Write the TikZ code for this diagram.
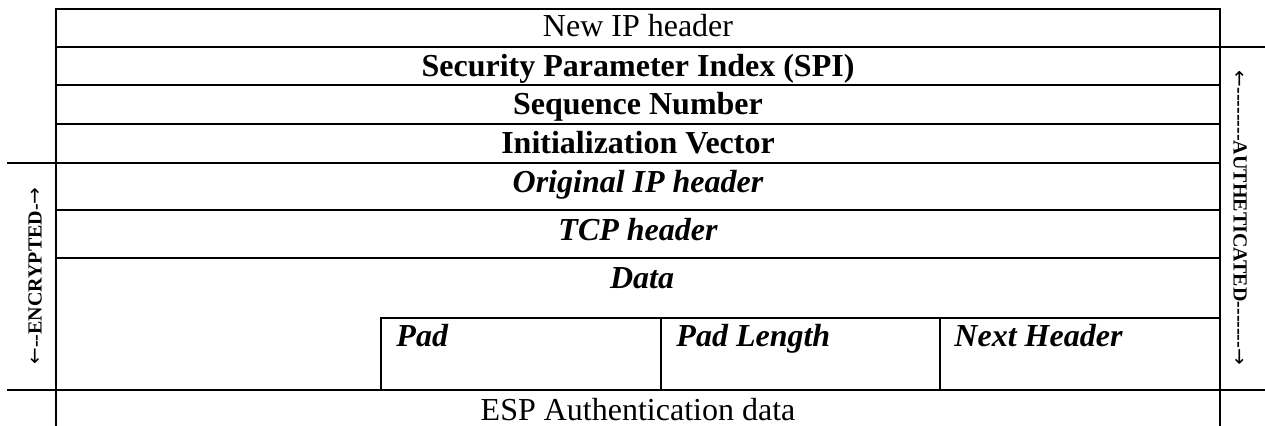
\documentclass[tikz,border=0pt]{standalone}
\usepackage{fontspec}
\setmainfont{Liberation Serif}
\newfontfamily\arrowfont{DejaVu Sans}
\newcommand{\up}{{\arrowfont\mdseries ←}}
\newcommand{\dn}{{\arrowfont\mdseries →}}
\begin{document}
\begin{tikzpicture}[x=0.375pt,y=-0.375pt,line width=1.1pt,
		plain/.style={anchor=base,inner sep=0pt,font=\fontsize{12}{14}\selectfont},
		boldtxt/.style={anchor=base,inner sep=0pt,font=\fontsize{12}{14}\selectfont\bfseries},
		itbold/.style={anchor=base,inner sep=0pt,font=\fontsize{12}{14}\selectfont\bfseries\itshape},
		side/.style={inner sep=0pt,font=\fontsize{7.5}{9}\selectfont\bfseries}]
	\useasboundingbox (0,0) rectangle (1265,426);
	% frame corners
	\coordinate (tl) at (56,9);
	\coordinate (tr) at (1220,9);
	\coordinate (bl) at (56,426);
	\coordinate (br) at (1220,426);
	\draw (bl) -- (tl) -- (tr) -- (br);
	% row borders
	\draw (56,47) -- (1265,47);
	\foreach \y in {85,124,210,258}
		\draw (56,\y) -- (1220,\y);
	\draw (7,163) -- (1220,163);
	\draw (7,390) -- (1265,390);
	% trailer cells
	\draw (381,390) -- (381,318) -- (1220,318);
	\draw (661,318) -- (661,390);
	\draw (940,318) -- (940,390);
	% texts
	\node[plain] (newip) at (638,37) {New IP header};
	\node[boldtxt] (spi) at (638,77) {Security Parameter Index (SPI)};
	\node[boldtxt] (seq) at (638,115) {Sequence Number};
	\node[boldtxt] (iv) at (638,154) {Initialization Vector};
	\node[itbold] (origip) at (638,193) {Original IP header};
	\node[itbold] (tcp) at (638,241) {TCP header};
	\node[itbold] (data) at (642,289) {Data};
	\node[itbold,anchor=base west] (pad) at (395,347) {Pad};
	\node[itbold,anchor=base west] (padlen) at (675,347) {Pad Length};
	\node[itbold,anchor=base west] (nexthdr) at (953,347) {Next Header};
	\node[plain] (espauth) at (638,421) {ESP Authentication data};
	% side labels
	\node[side,rotate=90] (enc) at (35,276) {\up-{}-ENCRYPTED-\dn};
	\node[side,rotate=-90] (auth) at (1240,218)
		{\up-{}-{}-{}-{}-{}-{}-{}-AUTHETICATED-{}-{}-{}-{}-{}-{}-\dn};
\end{tikzpicture}
\end{document}
